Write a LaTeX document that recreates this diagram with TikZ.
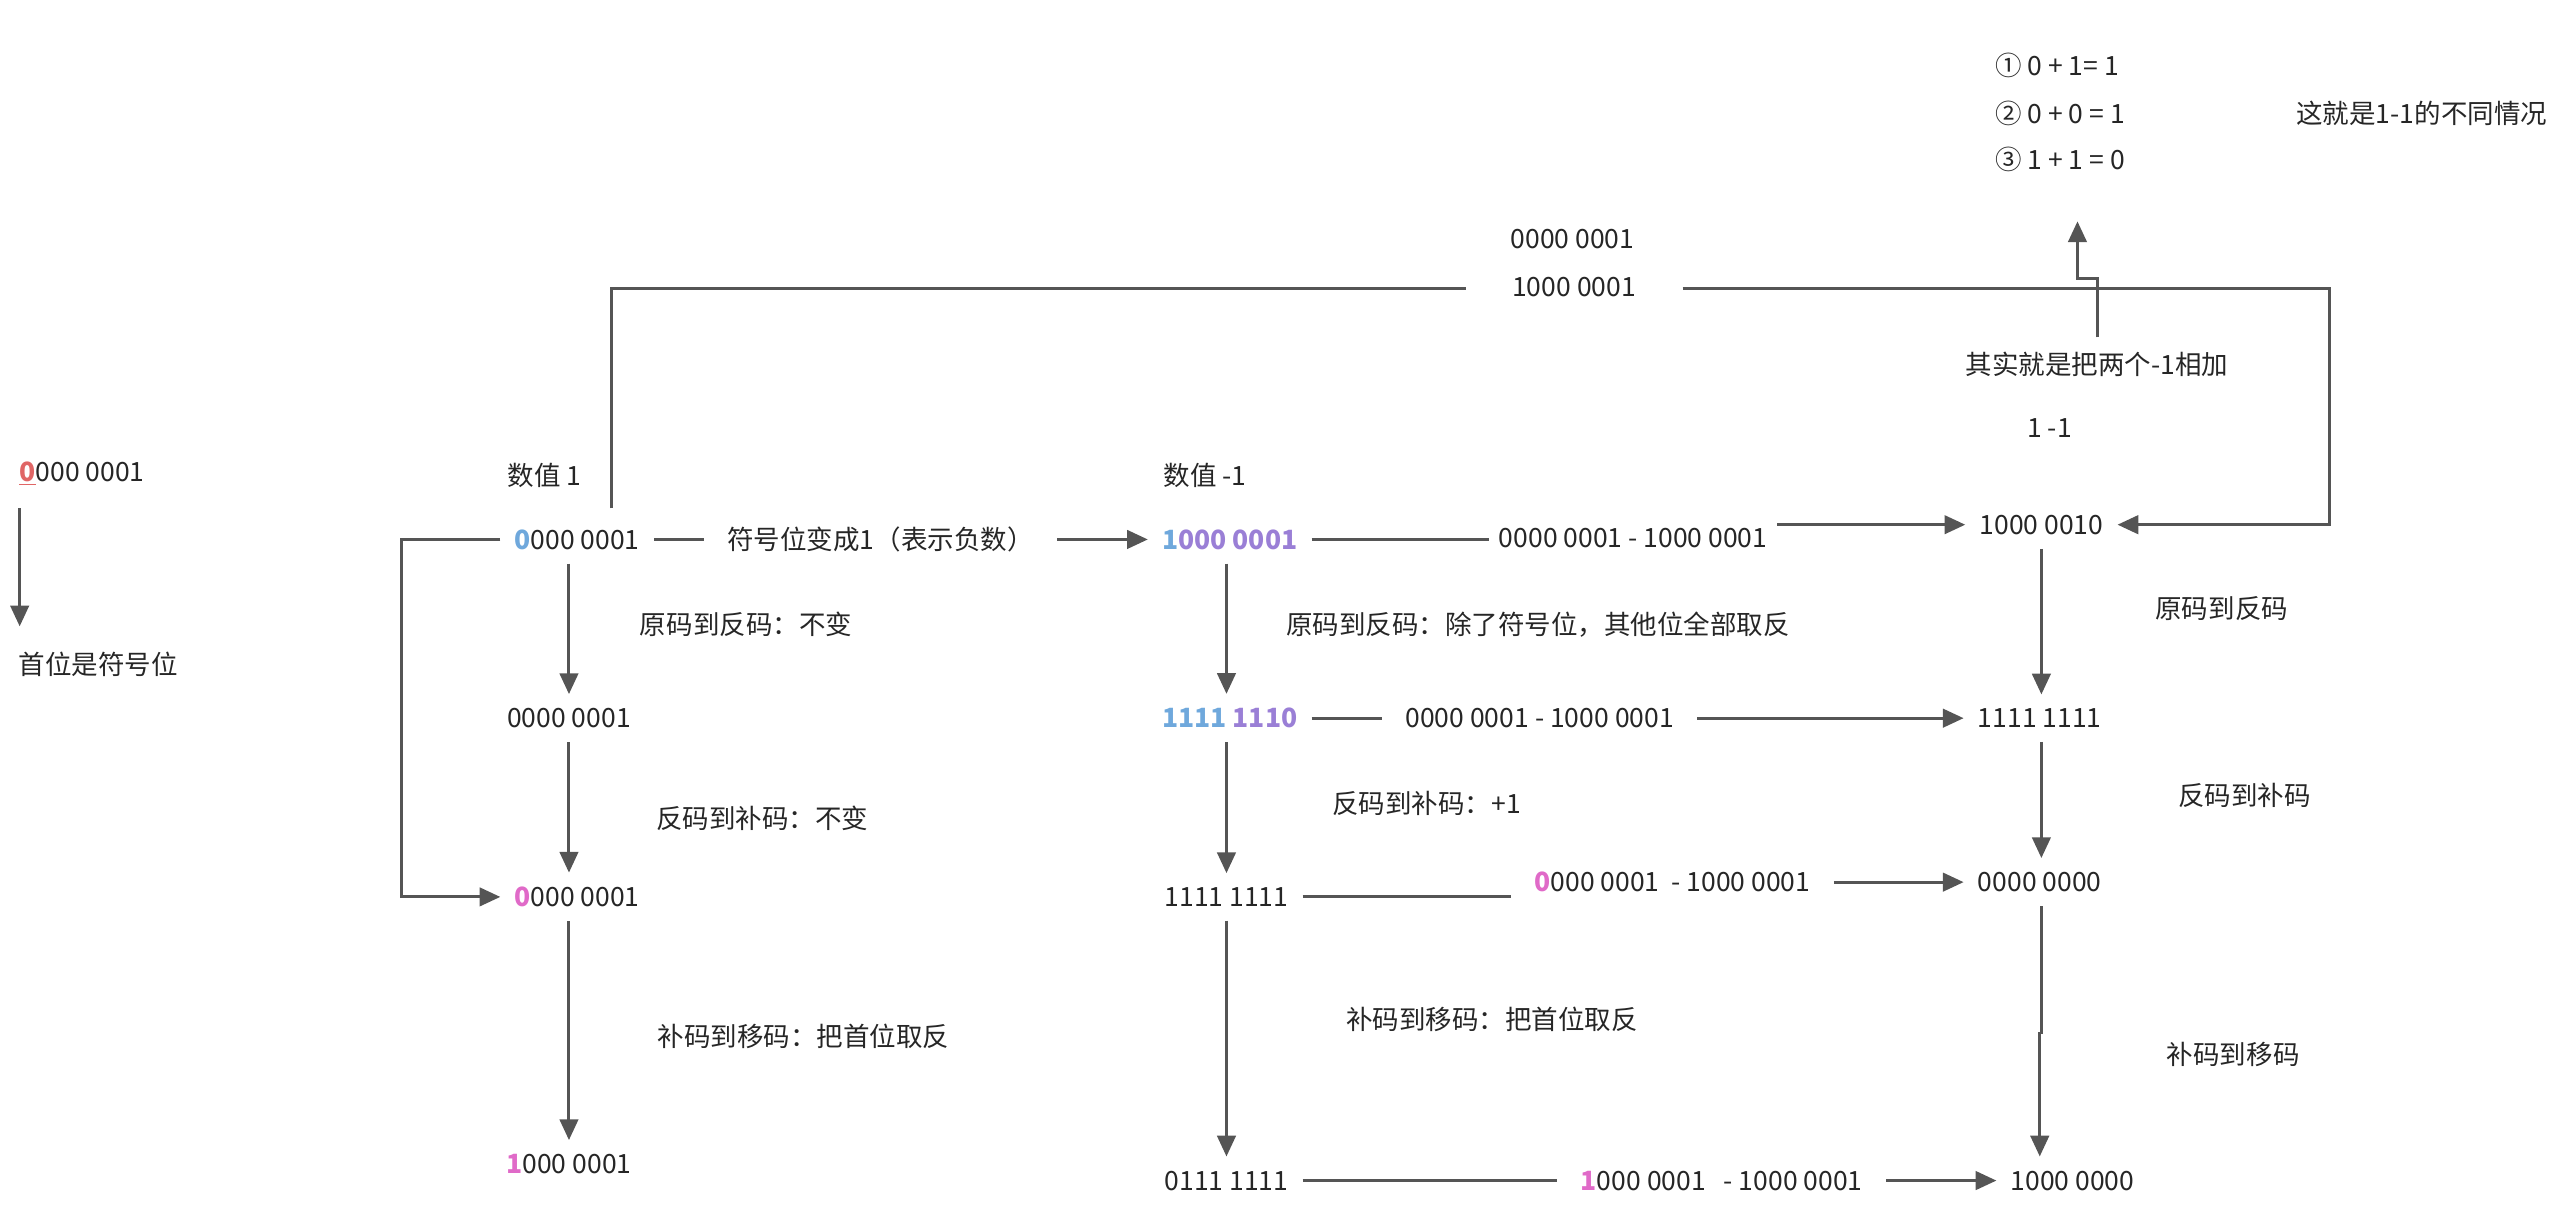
\documentclass[tikz,border=0pt]{standalone}
\usepackage{fontspec}
\setmainfont{Noto Sans CJK SC}
\usepackage{xcolor}
\usetikzlibrary{arrows.meta}
\definecolor{lineg}{HTML}{555555}
\definecolor{sblue}{HTML}{6FA8DC}
\definecolor{spurple}{HTML}{9A7FD6}
\definecolor{spink}{HTML}{E06AC8}
\definecolor{sred}{HTML}{E06666}
\newcommand{\bl}[1]{\textcolor{sblue}{#1}}
\newcommand{\pu}[1]{\textcolor{spurple}{#1}}
\newcommand{\pk}[1]{\textcolor{spink}{\bfseries #1}}

\begin{document}
\begin{tikzpicture}[x=0.025cm,y=-0.025cm,
    txt/.style={inner sep=6pt,font=\fontsize{11.5}{13}\selectfont,text=black!85},
    lbl/.style={inner sep=10pt,font=\fontsize{11.5}{13}\selectfont,text=black!85},
    ln/.style={draw=lineg,line width=1.3pt},
    arr/.style={ln,-{Triangle[length=9pt,width=8pt]}}]
    \useasboundingbox (0,0) rectangle (1568,743);
    % left note
    \node[txt] (sign) at (50,289) {\textcolor{sred}{\bfseries\underline{0}}000 0001};
    \node[txt] (signlbl) at (60,405) {首位是符号位};
    \coordinate (st) at (12,310);
    \coordinate (se) at (12,382);
    \draw[arr] (st) -- (se);
    % top right notes
    \node[txt,anchor=west] (case1) at (1208,40) {① 0 + 1= 1};
    \node[txt,anchor=west] (case2) at (1208,69) {② 0 + 0 = 1};
    \node[txt,anchor=west] (case3) at (1208,97) {③ 1 + 1 = 0};
    \node[txt] (cases) at (1477,69) {这就是1-1的不同情况};
    \node[txt] (sum) at (1279,222) {其实就是把两个-1相加};
    \node[txt] (oneminus) at (1250,261) {1 -1};
    \coordinate (up1) at (1279,170);
    \coordinate (up2) at (1267,170);
    \coordinate (up3) at (1267,135);
    \draw[arr] (sum.north) -- (up1) -- (up2) -- (up3);
    % titles
    \node[txt] (val1) at (332,290) {数值 1};
    \node[txt] (valm1) at (735,290) {数值 -1};
    % column 1
    \coordinate (x1) at (347,0);
    \node[txt] (a1) at (352,329) {\bl{\bfseries 0}000 0001};
    \node[txt] (a2) at (347,438) {0000 0001};
    \node[txt] (a3) at (352,547) {\pk{0}000 0001};
    \node[txt] (a4) at (347,710) {\pk{1}000 0001};
    \draw[arr] (a1.south -| x1) -- (a2);
    \draw[arr] (a2) -- (a3.north -| x1);
    \draw[arr] (a3.south -| x1) -- (a4);
    \node[lbl] (l11) at (455,381) {原码到反码：不变};
    \node[lbl] (l12) at (465,499) {反码到补码：不变};
    \node[lbl] (l13) at (490,632) {补码到移码：把首位取反};
    % column 2
    \coordinate (x2) at (748,0);
    \node[txt] (b1) at (750,329) {\bfseries\bl{1}\pu{000 0001}};
    \node[txt] (b2) at (750,438) {\bfseries\bl{1111} \pu{1110}};
    \node[txt] (b3) at (748,547) {1111 1111};
    \node[txt] (b4) at (748,720) {0111 1111};
    \draw[arr] (b1.south -| x2) -- (b2.north -| x2);
    \draw[arr] (b2.south -| x2) -- (b3);
    \draw[arr] (b3) -- (b4);
    \node[lbl] (l21) at (938,381) {原码到反码：除了符号位，其他位全部取反};
    \node[lbl] (l22) at (870,490) {反码到补码：+1};
    \node[lbl] (l23) at (910,622) {补码到移码：把首位取反};
    % column 3
    \coordinate (x3) at (1245,0);
    \node[txt] (c1) at (1245,320) {1000 0010};
    \node[txt] (c2) at (1244,438) {1111 1111};
    \node[txt] (c3) at (1244,538) {0000 0000};
    \node[txt] (c4) at (1264,720) {1000 0000};
    \coordinate (c3b) at (1245,630);
    \coordinate (c3c) at (1244,630);
    \draw[arr] (c1.south -| x3) -- (c2.north -| x3);
    \draw[arr] (c2.south -| x3) -- (c3.north -| x3);
    \draw[arr] (c3.south -| x3) -- (c3b) -- (c3c) -- (c4.north -| c3c);
    \node[lbl] (l31) at (1355,371) {原码到反码};
    \node[lbl] (l32) at (1369,485) {反码到补码};
    \node[lbl] (l33) at (1362,643) {补码到移码};
    % row 1
    \node[lbl] (r1) at (537,329) {符号位变成1（表示负数）};
    \draw[ln] (a1) -- (r1);
    \draw[arr] (r1) -- (b1);
    \node[lbl,inner sep=4pt] (r1b) at (996,328) {0000 0001 - 1000 0001};
    \draw[ln] (b1) -- (b1 -| r1b.west);
    \draw[arr] (r1b.east |- c1) -- (c1);
    % row 2
    \node[lbl] (r2) at (939,438) {0000 0001 - 1000 0001};
    \draw[ln] (b2) -- (r2);
    \draw[arr] (r2) -- (c2);
    % row 3
    \node[lbl] (r3) at (1020,538) {\pk{0}000 0001 \ - 1000 0001};
    \draw[ln] (b3) -- (b3 -| r3.west);
    \draw[arr] (r3) -- (c3);
    % row 4
    \node[lbl] (r4) at (1050,720) {\pk{1}000 0001 \ \ - 1000 0001};
    \draw[ln] (b4) -- (r4);
    \draw[arr] (r4) -- (c4);
    % left loop
    \coordinate (lp1) at (245,329);
    \coordinate (lp2) at (245,547);
    \draw[arr] (a1.west) -- (lp1) -- (lp2) -- (a3.west |- lp2);
    % big loop over the top
    \node[txt,inner sep=2pt] (top1) at (959,146) {0000 0001};
    \node[lbl,inner sep=20pt] (top2) at (960,175) {1000 0001};
    \coordinate (tp0) at (373,310);
    \coordinate (tp1) at (373,176);
    \coordinate (tp2) at (1421,176);
    \coordinate (tp3) at (1421,320);
    \draw[ln] (tp0) -- (tp1) -- (top2.west |- tp1);
    \draw[arr] (top2.east |- tp2) -- (tp2) -- (tp3) -- (c1);
\end{tikzpicture}
\end{document}
